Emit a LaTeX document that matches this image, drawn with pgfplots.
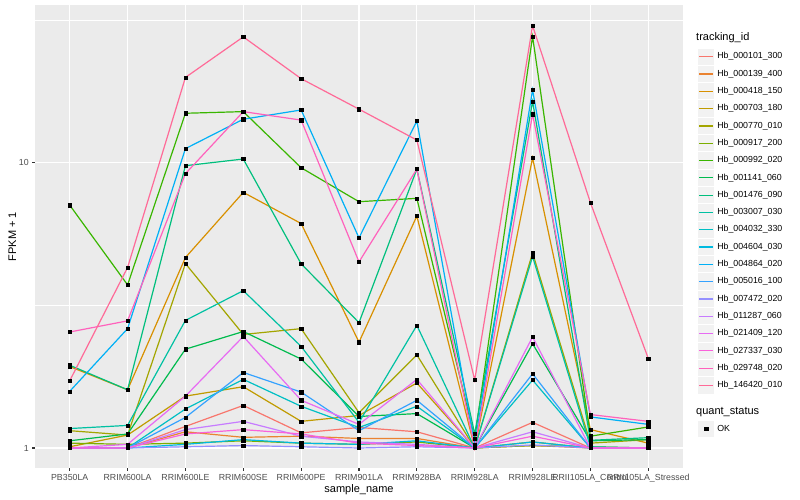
\documentclass[border=0pt]{standalone}
\usepackage{fontspec}
\setmainfont{Liberation Sans}
\usepackage{pgfplots}
\pgfplotsset{compat=1.18}
\usepackage{pgfplotstable}

% ggplot2 hue palette, 20 levels
\definecolor{c1}{HTML}{F8766D}
\definecolor{c2}{HTML}{EA8331}
\definecolor{c3}{HTML}{D89000}
\definecolor{c4}{HTML}{C09B00}
\definecolor{c5}{HTML}{A3A500}
\definecolor{c6}{HTML}{7CAE00}
\definecolor{c7}{HTML}{39B600}
\definecolor{c8}{HTML}{00BB4E}
\definecolor{c9}{HTML}{00BF7D}
\definecolor{c10}{HTML}{00C1A3}
\definecolor{c11}{HTML}{00BFC4}
\definecolor{c12}{HTML}{00BAE0}
\definecolor{c13}{HTML}{00B0F6}
\definecolor{c14}{HTML}{35A2FF}
\definecolor{c15}{HTML}{9590FF}
\definecolor{c16}{HTML}{C77CFF}
\definecolor{c17}{HTML}{E76BF3}
\definecolor{c18}{HTML}{FA62DB}
\definecolor{c19}{HTML}{FF62BC}
\definecolor{c20}{HTML}{FF6A98}
\definecolor{panel}{HTML}{EBEBEB}
\definecolor{keybg}{HTML}{F2F2F2}
\definecolor{gray30}{HTML}{4D4D4D}
\definecolor{gray20}{HTML}{333333}

% FPKM + 1 per sample (rows) and tracking id (columns)
\pgfplotstableread{
x  s1   s2   s3   s4   s5   s6   s7   s8   s9    s10  s11  s12  s13   s14  s15   s16  s17  s18  s19  s20
0  1.00 1.00 1.93 1.01 1.15 1.04 7.10 1.06 1.95  1.17 1.00 1.00 1.58  1.00 1.00  1.00 1.00 1.00 2.55 1.72
1  1.00 1.00 1.60 1.11 1.11 1.03 3.73 1.12 1.60  1.20 1.00 1.00 2.62  1.00 1.00  1.00 1.03 1.00 2.79 4.29
2  1.19 1.14 4.65 1.52 4.43 1.04 14.9 2.22 9.76  2.80 1.37 1.03 11.2  1.28 1.01  1.16 1.52 1.12 9.15 19.9
3  1.41 1.09 7.87 1.64 2.50 1.06 15.1 2.56 10.3  3.56 1.74 1.07 14.2  1.84 1.02  1.24 2.46 1.16 15.1 27.6
4  1.13 1.10 6.12 1.24 2.62 1.04 9.60 2.05 4.42  2.27 1.40 1.04 15.3  1.57 1.01  1.10 1.47 1.12 14.1 19.7
5  1.18 1.08 2.35 1.30 1.33 1.03 7.30 1.29 2.75  1.23 1.18 1.03 5.45  1.15 1.00  1.05 1.21 1.04 4.49 15.4
6  1.14 1.08 6.50 1.69 2.12 1.05 7.50 1.32 9.50  2.69 1.40 1.06 14.0  1.47 1.01  1.03 1.74 1.02 9.50 12.0
7  1.00 1.00 1.00 1.00 1.00 1.00 1.08 1.00 1.12  1.00 1.00 1.00 1.03  1.00 1.00  1.00 1.00 1.00 1.00 1.73
8  1.23 1.02 10.4 1.05 4.83 1.02 27.7 2.32 16.4  4.69 1.73 1.05 18.0  1.82 1.025 1.14 2.45 1.10 14.8 30.2
9  1.00 1.00 1.16 1.00 1.04 1.01 1.10 1.06 1.064 1.01 1.00 1.00 1.285 1.00 1.00  1.00 1.00 1.00 1.31 7.24
10 1.00 1.00 1.04 1.00 1.07 1.00 1.185 1.07 1.087 1.00 1.00 1.00 1.21 1.00 1.00  1.00 1.00 1.00 1.24 2.06
}\fpkm

\pgfplotsset{
    keystyle/.style={
        legend cell align=left,
        legend style={anchor=north west, draw=none, fill=none,
            inner sep=0pt, outer sep=0pt, row sep=0pt, column sep=2.5bp,
            font=\fontsize{8.8bp}{9bp}\selectfont,
            nodes={inner sep=0pt, text height=6.3bp, text depth=1.8bp}},
    },
}

\begin{document}
\begin{tikzpicture}
\useasboundingbox (-35bp,-32bp) rectangle (765bp,468bp);
\begin{axis}[
    at={(0bp,0bp)}, anchor=south west,
    scale only axis,
    width=648bp, height=463bp,
    xmin=-0.6, xmax=10.6,
    ymode=log, ymin=0.851, ymax=35.7,
    xtick={0,...,10},
    xticklabels={PB350LA,RRIM600LA,RRIM600LE,RRIM600SE,RRIM600PE,RRIM901LA,RRIM928BA,RRIM928LA,RRIM928LE,RRII105LA\_Control,RRII105LA\_Stressed},
    ytick={1,10}, yticklabels={1,10},
    minor ytick={3.1623,31.623},
    grid=both,
    major grid style={white, line width=1.07bp},
    minor grid style={white, line width=0.53bp},
    axis background/.style={fill=panel},
    axis line style={draw=none},
    tick align=outside, tick pos=left,
    major tick length=2.75bp, minor tick length=0pt,
    tick style={gray20, line width=1.07bp},
    ticklabel style={font=\fontsize{8.8bp}{10bp}\selectfont, text=gray30},
    xlabel={sample\_name}, ylabel={FPKM + 1},
    label style={font=\fontsize{11bp}{13bp}\selectfont},
    xlabel style={yshift=5bp},
    ylabel style={yshift=-4bp},
    legend entries={Hb\_000101\_300,Hb\_000139\_400,Hb\_000418\_150,Hb\_000703\_180,Hb\_000770\_010,Hb\_000917\_200,Hb\_000992\_020,Hb\_001141\_060,Hb\_001476\_090,Hb\_003007\_030,Hb\_004032\_330,Hb\_004604\_030,Hb\_004864\_020,Hb\_005016\_100,Hb\_007472\_020,Hb\_011287\_060,Hb\_021409\_120,Hb\_027337\_030,Hb\_029748\_020,Hb\_146420\_010},
    keystyle,
    legend style={at={(1.0224,0.907)}},
    legend image code/.code={
        \path[draw=none, fill=none] (0bp,-8.65bp) rectangle (17.3bp,8.65bp);
        \fill[keybg, draw=none] (0.5bp,-8.15bp) rectangle (16.8bp,8.15bp);
        \draw[#1, line width=1.2bp] (1.7bp,0bp) -- (15.6bp,0bp);
    },
]
\pgfplotsinvokeforeach{1,...,20}{
    \addplot[draw=c#1, line width=1.2bp, no marks] table[x=x, y=s#1] {\fpkm};
}
\pgfplotsinvokeforeach{1,...,20}{
    \addplot[only marks, mark=square*, mark size=1.6bp, black, forget plot] table[x=x, y=s#1] {\fpkm};
}
\end{axis}
\node[anchor=west, inner sep=0pt, font=\fontsize{11bp}{13bp}\selectfont] at (661bp,430bp) {tracking\_id};
\node[anchor=west, inner sep=0pt, font=\fontsize{11bp}{13bp}\selectfont] at (661bp,56.4bp) {quant\_status};
\begin{axis}[
    at={(662.5bp,47.65bp)}, anchor=north west,
    hide axis, scale only axis, width=10bp, height=10bp,
    xmin=0, xmax=1, ymin=0, ymax=1,
    keystyle,
    legend style={at={(0,1)}},
    legend image code/.code={
        \path[draw=none, fill=none] (0bp,-8.65bp) rectangle (17.3bp,8.65bp);
        \fill[keybg, draw=none] (0.5bp,-8.15bp) rectangle (16.8bp,8.15bp);
        \draw[#1] plot coordinates {(8.65bp,0bp)};
    },
]
\addlegendimage{only marks, mark=square*, black, mark size=1.6bp}
\addlegendentry{OK}
\end{axis}
\end{tikzpicture}
\end{document}
